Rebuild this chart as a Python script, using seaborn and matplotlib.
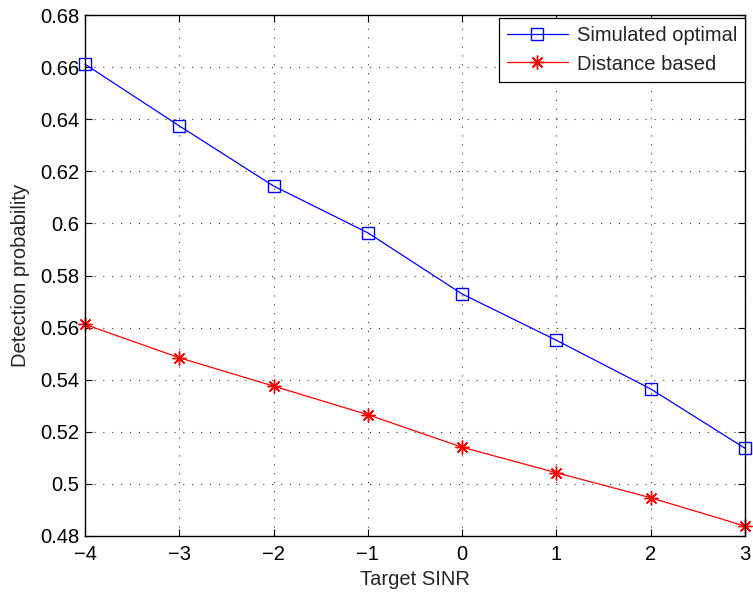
import matplotlib
matplotlib.use("Agg")
import matplotlib.pyplot as plt
from matplotlib.lines import Line2D
import seaborn as sns

# Detection probability versus target SINR
target_sinr = [-4, -3, -2, -1, 0, 1, 2, 3]
simulated_optimal = [0.6612, 0.6375, 0.6144, 0.5964, 0.5729, 0.5551, 0.5364, 0.5136]
distance_based = [0.5612, 0.5484, 0.5375, 0.5265, 0.5140, 0.5042, 0.4946, 0.4837]
series_names = ["Simulated optimal", "Distance based"]
x_ticks = [-4, -3, -2, -1, 0, 1, 2, 3]
y_ticks = [0.48, 0.50, 0.52, 0.54, 0.56, 0.58, 0.60, 0.62, 0.64, 0.66, 0.68]
y_tick_labels = ["0.48", "0.5", "0.52", "0.54", "0.56", "0.58", "0.6", "0.62", "0.64", "0.66", "0.68"]

sns.set_style("white")
plt.rcParams["font.family"] = ["Liberation Sans", "DejaVu Sans"]
plt.rcParams["font.size"] = 14.5

fig = plt.figure(figsize=(7.53, 5.93), dpi=100)
ax = fig.add_axes([0.1129, 0.0966, 0.8765, 0.8776])

ASTERISK = (8, 2, 0)

sns.lineplot(x=target_sinr, y=simulated_optimal, color="#0000ff", marker="s",
             markersize=9, markerfacecolor="none", markeredgecolor="#0000ff",
             markeredgewidth=1.0, linewidth=0.9, ax=ax, clip_on=False)
sns.lineplot(x=target_sinr, y=distance_based, color="#ff0000", marker=ASTERISK,
             markersize=10, markeredgecolor="#ff0000", markeredgewidth=1.0,
             linewidth=0.9, ax=ax, clip_on=False)

ax.set_xlim(-4, 3)
ax.set_ylim(0.48, 0.68)
ax.set_xticks(x_ticks)
ax.set_yticks(y_ticks)
ax.set_yticklabels(y_tick_labels)
ax.tick_params(direction="in", length=5, width=0.8, colors="black", labelsize=14.5,
               top=True, right=True, bottom=True, left=True)
ax.tick_params(axis="x", pad=7)
ax.tick_params(axis="y", pad=4)
ax.grid(True, linestyle=(0, (1, 7)), color="#333333", linewidth=0.8)
for s in ax.spines.values():
    s.set_color("black")
    s.set_linewidth(1.0)
    s.set_visible(True)

ax.set_xlabel("Target SINR", fontsize=14.5, labelpad=4)
ax.set_ylabel("Detection probability", fontsize=14.5, labelpad=7)

handles = [
    Line2D([], [], color="#0000ff", marker="s", markerfacecolor="none",
           markersize=9, linewidth=0.9),
    Line2D([], [], color="#ff0000", marker=ASTERISK, markersize=10, linewidth=0.9),
]
leg = ax.legend(handles, series_names, loc="upper right", fontsize=14.5,
                bbox_to_anchor=(1.0, 0.994), borderaxespad=0.0,
                frameon=True, fancybox=False, edgecolor="black", framealpha=1,
                handlelength=3.0, handletextpad=0.45, borderpad=0.4,
                labelspacing=0.45)
leg.get_frame().set_linewidth(0.9)

fig.savefig("out.png", dpi=100, facecolor="white")
